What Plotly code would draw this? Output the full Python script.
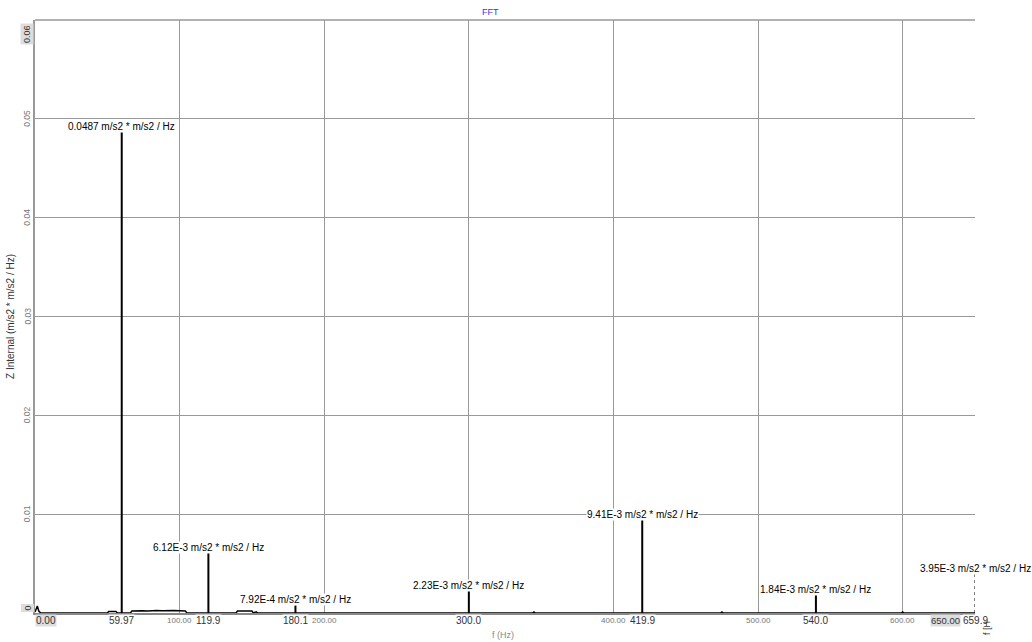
import plotly.graph_objects as go

# Dominant spectral lines (Hz) and their PSD (m/s2 * m/s2 / Hz)
peak_freqs = [59.97, 119.9, 180.1, 300.0, 419.9, 540.0, 659.9]
peak_vals = [0.0487, 6.12e-3, 7.92e-4, 2.23e-3, 9.41e-3, 1.84e-3, 3.95e-3]
peak_texts = ["0.0487", "6.12E-3", "7.92E-4", "2.23E-3", "9.41E-3", "1.84E-3", "3.95E-3"]

# Low-level floor of the spectrum between the lines
floor_freqs = [0.0, 0.8, 1.6, 2.6, 4.0, 50.0, 51.0, 56.0, 57.0, 66.0, 67.0, 74.0, 78.0,
               84.0, 88.0, 96.0, 100.0, 104.0, 105.0, 139.0, 140.0, 150.0, 151.0,
               153.0, 154.0, 344.0, 345.0, 346.0, 474.0, 475.0, 476.0, 599.0, 600.0,
               601.0, 650.0]
floor_vals = [0.0001, 0.0004, 0.0007, 0.0002, 0.0, 0.0, 0.00015, 0.00015, 0.0, 0.0,
              0.0002, 0.00022, 0.0002, 0.00025, 0.00022, 0.00025, 0.0002, 0.0002, 0.0,
              0.0, 0.0002, 0.0002, 0.0, 0.00012, 0.0, 0.0, 0.0001, 0.0, 0.0, 0.0001, 0.0,
              0.0, 0.0001, 0.0, 0.0]

x_range = [0.0, 650.0]
y_range = [0.0, 0.06]
grid_x = [100, 200, 300, 400, 500, 600]
grid_y = [0.01, 0.02, 0.03, 0.04, 0.05]
y_tick_labels = ["0", "0.01", "0.02", "0.03", "0.04", "0.05", "0.06"]
y_tick_vals = [0.0, 0.01, 0.02, 0.03, 0.04, 0.05, 0.06]
unit = "m/s2 * m/s2 / Hz"

FONT = "Liberation Sans, Arial, sans-serif"

fig = go.Figure()
# spectrum floor
fig.add_trace(go.Scatter(x=floor_freqs, y=floor_vals, mode="lines",
                         line=dict(color="black", width=1.5), hoverinfo="skip"))
# spectral lines as vertical stems
stem_x, stem_y = [], []
for f, v in zip(peak_freqs, peak_vals):
    stem_x += [f, f, None]
    stem_y += [0.0, v, None]
fig.add_trace(go.Scatter(x=stem_x, y=stem_y, mode="lines",
                         line=dict(color="black", width=2), hoverinfo="skip"))

# lines beyond the visible span are pinned to the right edge with a dotted stem
for f, v in zip(peak_freqs, peak_vals):
    if f > x_range[1]:
        fig.add_trace(go.Scatter(x=[x_range[1], x_range[1]], y=[0, v], mode="lines",
                                 line=dict(color="black", width=1, dash="dot"),
                                 cliponaxis=False, hoverinfo="skip"))

ann = []
# value labels over each line
for f, v, t in zip(peak_freqs, peak_vals, peak_texts):
    ann.append(dict(x=min(f, x_range[1]), y=v, xref="x", yref="y", text=f"{t} {unit}",
                    showarrow=False, yanchor="bottom", xanchor="center",
                    bgcolor="white", borderpad=0, yshift=-1,
                    font=dict(family=FONT, size=10, color="black")))

# grid tick labels along the frequency axis
for g in grid_x:
    ann.append(dict(x=g, y=0, xref="x", yref="paper", text=f"{g:.2f}", showarrow=False,
                    yanchor="top", xanchor="center", yshift=-1,
                    font=dict(family=FONT, size=8, color="#777777")))

# range end labels
ann.append(dict(x=x_range[0], y=0, xref="x", yref="paper", text=f"{x_range[0]:.2f}",
                showarrow=False, yanchor="top", xanchor="left", yshift=-1,
                bgcolor="#dddddd", borderpad=0,
                font=dict(family=FONT, size=10, color="#333333")))
ann.append(dict(x=x_range[1], y=0, xref="x", yref="paper", text=f"{x_range[1]:.2f}",
                showarrow=False, yanchor="top", xanchor="right", xshift=-14, yshift=-1,
                bgcolor="#dddddd", borderpad=0,
                font=dict(family=FONT, size=9.5, color="#333333")))

# frequency markers under each line
for f in peak_freqs:
    ann.append(dict(x=min(f, x_range[1]), y=0, xref="x", yref="paper", text=f"{f:#.4g}",
                    showarrow=False, yanchor="top", xanchor="center", yshift=-1,
                    bgcolor="white", borderpad=0,
                    font=dict(family=FONT, size=10, color="#333333")))

# value axis labels (rotated)
for val, lbl in zip(y_tick_vals, y_tick_labels):
    end = val in (y_range[0], y_range[1])
    ann.append(dict(x=0, y=val, xref="paper", yref="y", text=lbl, textangle=-90,
                    showarrow=False, xanchor="right", xshift=-1,
                    yanchor="bottom" if val == y_range[0] else ("top" if val == y_range[1] else "middle"),
                    yshift=0 if val == y_range[0] else (-3 if val == y_range[1] else 0),
                    bgcolor="#dddddd" if end else "rgba(0,0,0,0)", borderpad=1,
                    font=dict(family=FONT, size=9 if end else 8.5,
                              color="#333333" if end else "#777777")))

# titles
ann.append(dict(x=0.485, y=1, xref="paper", yref="paper", text="FFT", showarrow=False,
                yanchor="bottom", yshift=1, font=dict(family=FONT, size=9, color="#3333ff")))
ann.append(dict(x=0.498, y=0, xref="paper", yref="paper", text="f (Hz)", showarrow=False,
                yanchor="top", yshift=-15, font=dict(family=FONT, size=9, color="#888888")))
ann.append(dict(x=0, y=0.5, xref="paper", yref="paper", text=f"Z Internal ({unit})",
                textangle=-90, showarrow=False, xanchor="right", xshift=-17,
                font=dict(family=FONT, size=10, color="#333333")))
ann.append(dict(x=1, y=0, xref="paper", yref="paper", text="f [H", textangle=-90,
                showarrow=False, xanchor="left", yanchor="top", xshift=5, yshift=-6,
                font=dict(family=FONT, size=9, color="#333333")))

shapes = [dict(type="line", xref="paper", yref="paper", x0=0, x1=1, y0=1, y1=1,
               line=dict(color="#999999", width=1.5))]

fig.update_layout(
    width=1032, height=642,
    margin=dict(l=35, r=57, t=20, b=29),
    paper_bgcolor="white", plot_bgcolor="white",
    showlegend=False,
    annotations=ann,
    shapes=shapes,
    xaxis=dict(range=x_range, tickvals=grid_x, showticklabels=False, ticks="",
               showgrid=True, gridcolor="#999999", gridwidth=1, zeroline=False,
               showline=True, linecolor="#888888", linewidth=2),
    yaxis=dict(range=y_range, tickvals=grid_y, showticklabels=False, ticks="",
               showgrid=True, gridcolor="#999999", gridwidth=1, zeroline=False,
               showline=True, linecolor="#999999", linewidth=1.5),
)

fig.write_html("out.html")
